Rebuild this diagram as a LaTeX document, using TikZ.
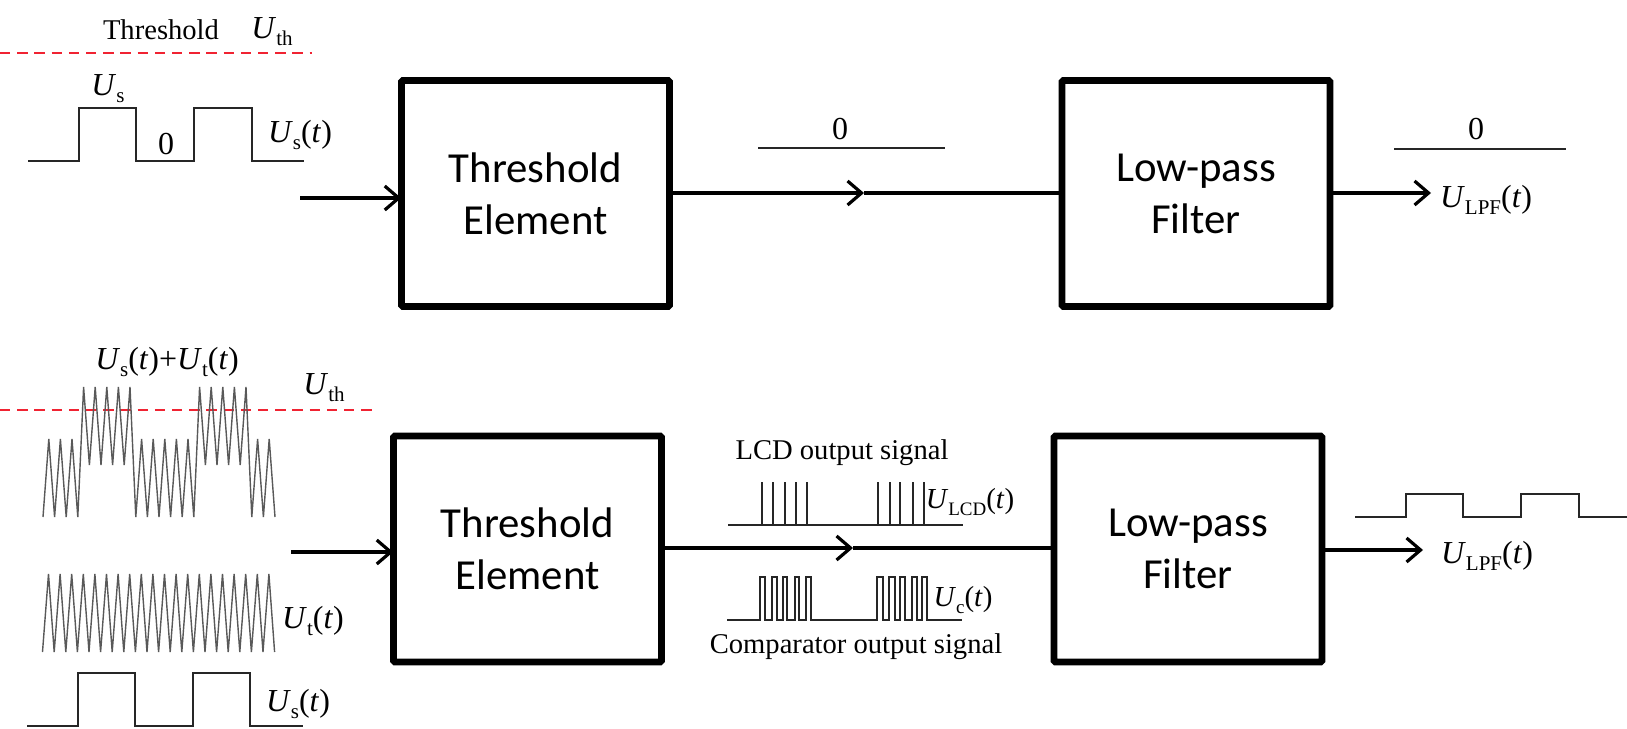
\documentclass[tikz,border=0pt]{standalone}
\usepackage{fontspec}
\setmainfont{Liberation Serif}
\newfontfamily\boxfont{Carlito}
\usetikzlibrary{arrows.meta}
\definecolor{thred}{RGB}{240,35,50}
\newcommand{\Uu}[2]{\textit{U}\raisebox{-0.22em}{\fontsize{10.5}{11}\selectfont #1}#2}
\newcommand{\Us}[2]{\textit{U}\raisebox{-0.22em}{\fontsize{9.5}{10}\selectfont #1}#2}
\newcommand{\Tt}{(\textit{t})}
\tikzset{
  x=0.5pt,y=-0.5pt,
  block/.style={draw,line width=3.3pt,inner sep=0pt,minimum width=134pt,minimum height=113pt,align=center,font=\boxfont\fontsize{21.4}{26}\selectfont,rounded corners=0.6pt},
  conn/.style={line width=1.6pt,-{Straight Barb[length=7pt,width=12pt,line width=1.6pt]}},
  plain/.style={line width=1.6pt},
  thresh/.style={draw=thred,line width=1.3pt,dash pattern=on 5.2pt off 3.4pt},
  sig/.style={line width=0.7pt,black!85,line join=miter},
  wave/.style={line width=0.7pt,black!65,line join=miter},
  lab/.style={inner sep=0pt,font=\fontsize{16}{18}\selectfont},
  smlab/.style={inner sep=0pt,font=\fontsize{14.5}{16}\selectfont},
  txt/.style={inner sep=0pt,font=\fontsize{14.3}{16}\selectfont},
}
\begin{document}
\begin{tikzpicture}
\useasboundingbox (0,0) rectangle (1627,728);
% top row
\node[block] (te1) at (535.5,193.5) {Threshold\\Element};
\node[block] (lp1) at (1196,193.5) {Low-pass\\Filter};
\coordinate (in1) at (300,198);
\coordinate (mid1) at (864,193);
\coordinate (out1) at (1431,193);
\draw[conn,shorten >=-1.5pt] (in1) -- (in1 -| te1.west);
\draw[conn] (te1.east |- mid1) -- (mid1);
\draw[plain] (mid1) -- (mid1 -| lp1.west);
\draw[conn] (lp1.east |- out1) -- (out1);
\draw[thresh] (0,53) -- (312,53);
\node[txt] (t1) at (161,30) {Threshold};
\node[lab] (uth1) at (272,32) {\Uu{th}{}};
\draw[sig] (28,161) -- (79,161) -- (79,108) -- (136,108) -- (136,161) -- (194,161) -- (194,108) -- (252,108) -- (252,161) -- (304,161);
\node[lab] (us1) at (108,89) {\Uu{s}{}};
\node[lab] (z1) at (166,144) {0};
\node[lab] (ust1) at (300,135) {\Uu{s}{\Tt}};
\draw[sig] (758,148) -- (945,148);
\node[lab] (z2) at (840,129) {0};
\draw[sig] (1394,149) -- (1566,149);
\node[lab] (z3) at (1476,129) {0};
\node[lab] (lpf1) at (1486,200) {\Uu{LPF}{\Tt}};
% bottom row
\node[block] (te2) at (527.5,549) {Threshold\\Element};
\node[block] (lp2) at (1188,549) {Low-pass\\Filter};
\coordinate (in2) at (291,552);
\coordinate (mid2) at (853,548);
\coordinate (out2) at (1423,550);
\draw[conn,shorten >=-1.5pt] (in2) -- (in2 -| te2.west);
\draw[conn] (te2.east |- mid2) -- (mid2);
\draw[plain] (mid2) -- (mid2 -| lp2.west);
\draw[conn] (lp2.east |- out2) -- (out2);
\draw[thresh] (0,410) -- (373,410);
\node[lab] (uth2) at (324,388) {\Uu{th}{}};
\node[lab] (sum) at (167,362) {\Uu{s}{\Tt}+\Uu{t}{\Tt}};
\draw[wave] (43,517) \foreach \k/\p/\t in {0/439/517,1/439/517,2/439/517,3/387/465,4/387/465,5/387/465,6/387/465,7/387/517,8/439/517,9/439/517,10/439/517,11/439/517,12/439/517,13/387/465,14/387/465,15/387/465,16/387/465,17/387/517,18/439/517,19/439/517} { -- ({48.8+11.6*\k},\p) -- ({54.6+11.6*\k},\t) };
\draw[wave] (42.5,652) \foreach \k in {0,...,19} { -- ({48.5+11.6*\k},574) -- ({54.2+11.6*\k},652) };
\node[lab] (utt) at (313,621) {\Uu{t}{\Tt}};
\draw[sig] (27,726) -- (78,726) -- (78,673) -- (135,673) -- (135,726) -- (193,726) -- (193,673) -- (250,673) -- (250,726) -- (303,726);
\node[lab] (ust2) at (298,704) {\Uu{s}{\Tt}};
\node[txt] (lcd) at (842,453) {LCD output signal};
\draw[sig] (728,525) -- (963,525);
\foreach \x in {762,773,785,796,807,878,890,900,913,924} \draw[sig] (\x,525) -- (\x,482);
\node[smlab] (ulcd) at (970,502) {\Us{LCD}{\Tt}};
\draw[sig] (727,620) -- (760,620) \foreach \a/\b in {760/765,772/777,783/787,795/799,806/811,877/883,889/895,900/905,912/917,922/927} { -- (\a,620) -- (\a,577) -- (\b,577) -- (\b,620) } -- (962,620);
\node[smlab] (uc) at (963,600) {\Us{c}{\Tt}};
\node[txt] (comp) at (856,647) {Comparator output signal};
\draw[sig] (1355,517) -- (1406,517) -- (1406,494) -- (1463,494) -- (1463,517) -- (1521,517) -- (1521,494) -- (1579,494) -- (1579,517) -- (1627,517);
\node[lab] (lpf2) at (1487,556) {\Uu{LPF}{\Tt}};
\end{tikzpicture}
\end{document}
